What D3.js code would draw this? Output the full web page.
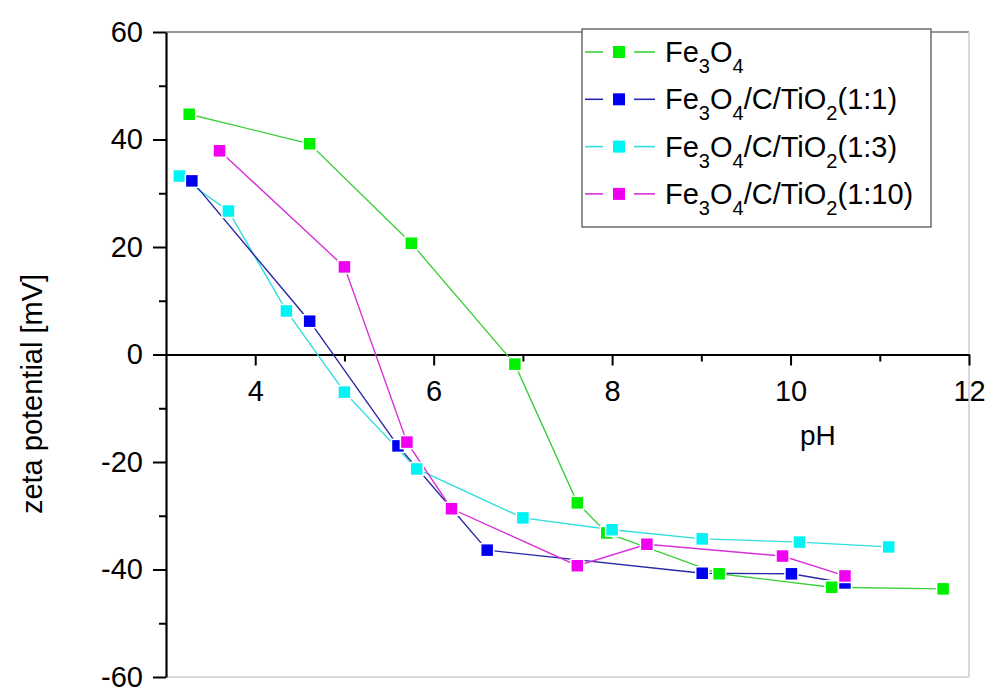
<!DOCTYPE html>
<html>
<head>
<meta charset="utf-8">
<script src="https://cdn.jsdelivr.net/npm/d3@7"></script>
<style>
  body { margin: 0; background: #fff; }
  text { font-family: Arial, "Liberation Sans", sans-serif; fill: #000; }
</style>
</head>
<body>
<svg id="chart" width="989" height="688"></svg>
<script>
// data
const phFe3O4 = [3.26, 4.61, 5.75, 6.91, 7.61, 7.94, 9.20, 10.46, 11.71];
const zetaFe3O4 = [44.7, 39.2, 20.7, -1.8, -27.6, -33.2, -40.8, -43.3, -43.6];

const ph1to1 = [3.29, 4.61, 5.60, 6.60, 9.01, 10.01, 10.61];
const zeta1to1 = [32.3, 6.2, -17.0, -36.4, -40.7, -40.8, -42.5];

const ph1to3 = [3.15, 3.70, 4.35, 5.00, 5.81, 7.00, 8.00, 9.01, 10.10, 11.10];
const zeta1to3 = [33.2, 26.7, 8.1, -7.0, -21.3, -30.4, -32.6, -34.3, -34.9, -35.8];

const ph1to10 = [3.60, 5.00, 5.70, 6.20, 7.61, 8.39, 9.91, 10.61];
const zeta1to10 = [37.9, 16.3, -16.3, -28.7, -39.3, -35.3, -37.5, -41.2];

const xTicks = [4, 6, 8, 10, 12];
const xMinorTicks = [5, 7, 9, 11];
const yTicks = [-60, -40, -20, 0, 20, 40, 60];
const yMinorTicks = [-50, -30, -10, 10, 30, 50];

// legend parts: [text, isSubscript]
const series = [
  { ph: phFe3O4, zeta: zetaFe3O4, color: "#00f000", line: "#3ccf3c", label: [["Fe", 0], ["3", 1], ["O", 0], ["4", 1]] },
  { ph: ph1to1, zeta: zeta1to1, color: "#0000f0", line: "#2828a8", label: [["Fe", 0], ["3", 1], ["O", 0], ["4", 1], ["/C/TiO", 0], ["2", 1], ["(1:1)", 0]] },
  { ph: ph1to3, zeta: zeta1to3, color: "#00f4f4", line: "#30dede", label: [["Fe", 0], ["3", 1], ["O", 0], ["4", 1], ["/C/TiO", 0], ["2", 1], ["(1:3)", 0]] },
  { ph: ph1to10, zeta: zeta1to10, color: "#f000f0", line: "#d830d8", label: [["Fe", 0], ["3", 1], ["O", 0], ["4", 1], ["/C/TiO", 0], ["2", 1], ["(1:10)", 0]] }
];
const drawOrder = [0, 2, 1, 3];

const svg = d3.select("#chart");
const m = { left: 166, right: 969, top: 32, bottom: 677 };

const x = d3.scaleLinear().domain([3, 12]).range([m.left, m.right]);
const y = d3.scaleLinear().domain([-60, 60]).range([m.bottom, m.top]);
const plain = d => String(d);

// frame (top, right, bottom)
svg.append("line").attr("x1", m.left).attr("x2", m.right).attr("y1", m.top).attr("y2", m.top)
  .attr("stroke", "#777").attr("stroke-width", 1.5);
svg.append("line").attr("x1", m.right).attr("x2", m.right).attr("y1", m.top).attr("y2", m.bottom)
  .attr("stroke", "#ccc").attr("stroke-width", 1.5);
svg.append("line").attr("x1", m.left).attr("x2", m.right).attr("y1", m.bottom).attr("y2", m.bottom)
  .attr("stroke", "#ccc").attr("stroke-width", 1.5);

// Y axis
svg.append("g").attr("transform", `translate(${m.left},0)`)
  .call(d3.axisLeft(y).tickValues(yTicks).tickFormat(plain).tickSize(13).tickPadding(10).tickSizeOuter(0));
svg.append("g").attr("transform", `translate(${m.left},0)`)
  .call(d3.axisLeft(y).tickValues(yMinorTicks).tickSize(7).tickFormat("").tickSizeOuter(0))
  .select(".domain").remove();

// X axis at zero
svg.append("g").attr("transform", `translate(0,${y(0)})`)
  .call(d3.axisBottom(x).tickValues(xTicks).tickFormat(plain).tickSize(11).tickPadding(15).tickSizeOuter(0));
svg.append("g").attr("transform", `translate(0,${y(0)})`)
  .call(d3.axisBottom(x).tickValues(xMinorTicks).tickSize(7).tickFormat("").tickSizeOuter(0))
  .select(".domain").remove();

svg.selectAll(".domain").attr("stroke", "#000").attr("stroke-width", 2.2);
svg.selectAll(".tick line").attr("stroke", "#000").attr("stroke-width", 2);
svg.selectAll(".tick text").attr("font-size", 29).attr("font-family", "Arial, 'Liberation Sans', sans-serif");

// axis titles
svg.append("text").attr("x", 800).attr("y", 445).attr("font-size", 28).text("pH");
svg.append("text").attr("transform", "translate(42,394) rotate(-90)")
  .attr("text-anchor", "middle").attr("font-size", 29).text("zeta potential [mV]");

// series
const lineGen = d3.line().x(d => x(d[0])).y(d => y(d[1]));
const ms = 13;
drawOrder.forEach(i => {
  const s = series[i];
  const pts = s.ph.map((p, k) => [p, s.zeta[k]]);
  svg.append("path").datum(pts).attr("d", lineGen)
    .attr("fill", "none").attr("stroke", s.line).attr("stroke-width", 1.4);
});
drawOrder.forEach(i => {
  const s = series[i];
  const pts = s.ph.map((p, k) => [p, s.zeta[k]]);
  svg.append("g").selectAll("rect").data(pts).join("rect")
    .attr("x", d => x(d[0]) - ms / 2).attr("y", d => y(d[1]) - ms / 2)
    .attr("width", ms).attr("height", ms)
    .attr("fill", s.color).attr("stroke", "#fff").attr("stroke-width", 1.5);
});

// legend
const lg = svg.append("g");
lg.append("rect").attr("x", 582).attr("y", 29).attr("width", 349).attr("height", 198)
  .attr("fill", "#fff").attr("stroke", "#555").attr("stroke-width", 1.3);
series.forEach((s, i) => {
  const cy = 52 + i * 47.3;
  lg.append("line").attr("x1", 585).attr("x2", 603).attr("y1", cy).attr("y2", cy)
    .attr("stroke", s.line).attr("stroke-width", 1.6);
  lg.append("line").attr("x1", 634).attr("x2", 655).attr("y1", cy).attr("y2", cy)
    .attr("stroke", s.line).attr("stroke-width", 1.6);
  lg.append("rect").attr("x", 613).attr("y", cy - 6).attr("width", 12).attr("height", 12)
    .attr("fill", s.color);
  const t = lg.append("text").attr("x", 665).attr("y", cy + 10).attr("font-size", 29);
  let shifted = false;
  s.label.forEach(([txt, sub]) => {
    let dy = 0;
    if (sub && !shifted) { dy = 11; shifted = true; }
    else if (!sub && shifted) { dy = -11; shifted = false; }
    t.append("tspan").attr("font-size", sub ? 20 : 29).attr("dy", dy).text(txt);
  });
});
</script>
</body>
</html>
